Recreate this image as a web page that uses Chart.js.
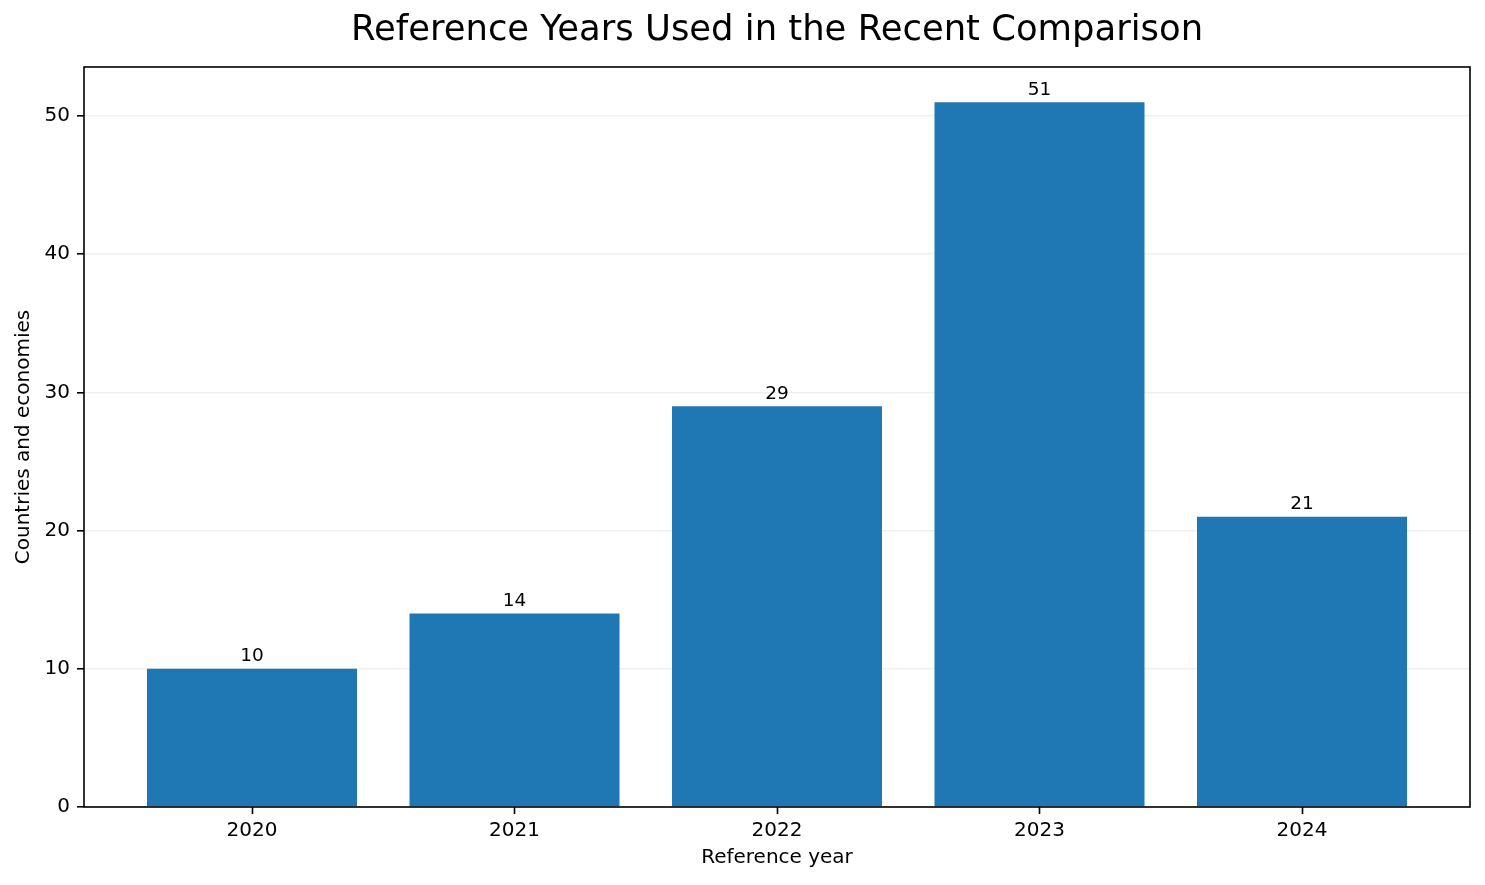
<!DOCTYPE html>
<html>
<head>
<meta charset="utf-8">
<script src="https://cdn.jsdelivr.net/npm/chart.js@4"></script>
<style>
  html, body { margin: 0; padding: 0; background: #fff; }
  canvas { display: block; }
</style>
</head>
<body>
<canvas id="yearsChart" width="1485" height="885"></canvas>
<script>
var years = ['2020', '2021', '2022', '2023', '2024']
var countries = [10, 14, 29, 51, 21]
var yTicks = [0, 10, 20, 30, 40, 50]

var barColor = '#1f77b4'
var font = "'DejaVu Sans', sans-serif"

// value labels above each bar + the box around the axes
var barLabels = {
    id: 'barLabels',
    afterDatasetsDraw(chart) {
        var ctx = chart.ctx
        var meta = chart.getDatasetMeta(0)
        ctx.save()
        ctx.fillStyle = '#000'
        ctx.font = '18.5px ' + font
        ctx.textAlign = 'center'
        ctx.textBaseline = 'bottom'
        meta.data.forEach((bar, i) => {
            ctx.fillText(String(countries[i]), bar.x, bar.y - 3)
        })
        ctx.restore()
    },
    afterDraw(chart) {
        var a = chart.chartArea
        var ctx = chart.ctx
        ctx.save()
        ctx.strokeStyle = '#000'
        ctx.lineWidth = 1.6
        ctx.strokeRect(a.left, a.top, a.right - a.left, a.bottom - a.top)
        ctx.restore()
    }
}

var ctx = document.getElementById('yearsChart').getContext('2d')
var chart = new Chart(ctx, {
    type: 'bar',
    data: {
        datasets: [{
            data: countries.map((v, i) => ({ x: i, y: v })),
            backgroundColor: barColor,
            barPercentage: 0.8,
            categoryPercentage: 1.0
        }]
    },
    options: {
        responsive: false,
        animation: false,
        devicePixelRatio: 1,
        layout: { padding: { top: 0, right: 15, bottom: 0, left: 0 } },
        plugins: {
            legend: { display: false },
            tooltip: { enabled: false },
            title: {
                display: true,
                fullSize: false,
                text: 'Reference Years Used in the Recent Comparison',
                color: '#000',
                font: { family: font, size: 35.4, weight: 'normal', lineHeight: 1.2 },
                padding: { top: 10, bottom: 14.5 }
            }
        },
        scales: {
            x: {
                type: 'linear',
                min: -0.64,
                max: 4.64,
                offset: false,
                afterFit(scale) { scale.height = 78 },
                grid: { offset: false, drawOnChartArea: false, drawTicks: true, tickLength: 7, tickColor: '#000', tickWidth: 1.6 },
                border: { display: false },
                ticks: {
                    stepSize: 1,
                    includeBounds: false,
                    padding: 5,
                    color: '#000',
                    font: { family: font, size: 20 },
                    maxRotation: 0,
                    callback: (v) => years[v] !== undefined ? years[v] : ''
                },
                title: {
                    display: true,
                    text: 'Reference year',
                    color: '#000',
                    font: { family: font, size: 20, lineHeight: 1.2 },
                    padding: { top: 0, bottom: 15 }
                }
            },
            y: {
                min: 0,
                max: 53.55,
                z: 1,
                afterFit(scale) { scale.width = 84 },
                afterBuildTicks(scale) { scale.ticks = yTicks.map(v => ({ value: v })) },
                grid: { color: 'rgba(210, 210, 210, 0.35)', lineWidth: 1.6, drawTicks: true, tickLength: 7, tickColor: '#000', tickWidth: 1.6 },
                border: { display: false },
                ticks: {
                    padding: 7,
                    color: '#000',
                    font: { family: font, size: 20 }
                },
                title: {
                    display: true,
                    text: 'Countries and economies',
                    color: '#000',
                    font: { family: font, size: 20, lineHeight: 1.2 },
                    padding: { top: 12, bottom: 0 }
                }
            }
        }
    },
    plugins: [barLabels]
})
</script>
</body>
</html>
